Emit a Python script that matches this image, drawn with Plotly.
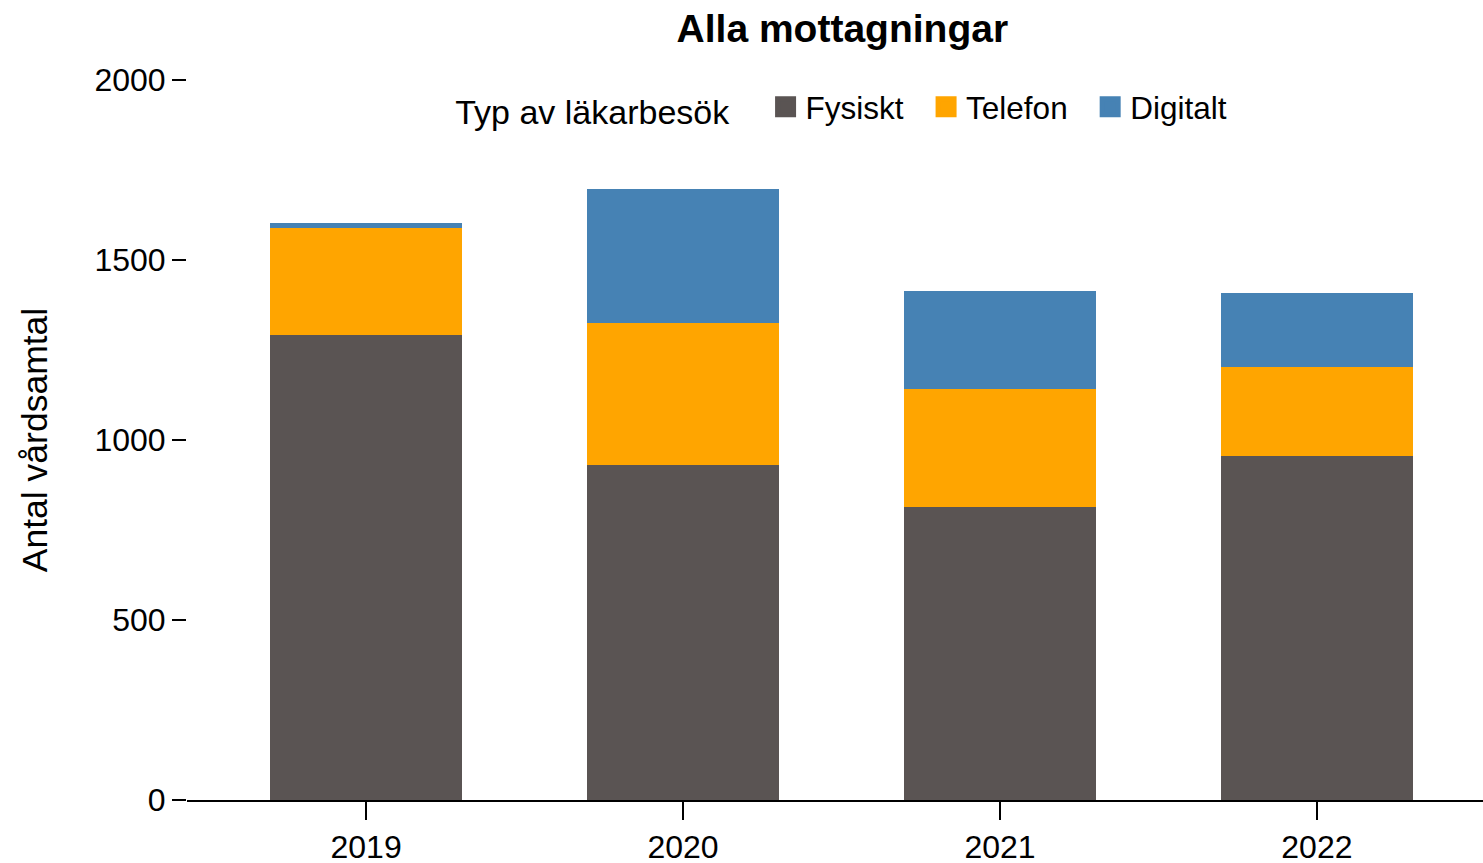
import plotly.graph_objects as go

years = ["2019", "2020", "2021", "2022"]
fysiskt = [1292, 931, 813, 956]
telefon = [298, 395, 328, 246]
digitalt = [14, 370, 273, 207]

series_names = ["Fysiskt", "Telefon", "Digitalt"]
series_values = [fysiskt, telefon, digitalt]
series_colors = ["#5A5453", "#FFA500", "#4682B4"]

FONT = "Liberation Sans, Arial, sans-serif"

fig = go.Figure()
for name, vals, col in zip(series_names, series_values, series_colors):
    fig.add_trace(go.Bar(
        x=years, y=vals, name=name, marker=dict(color=col, line=dict(width=0)),
        showlegend=False,
    ))
for name, col in zip(series_names, series_colors):
    fig.add_trace(go.Scatter(
        x=[None], y=[None], mode="markers", name=name + "\u00a0\u00a0",
        marker=dict(symbol="square", size=16, color=col, line=dict(color=col, width=8)),
    ))

fig.update_layout(
    width=1483, height=863,
    barmode="stack", bargap=0.394,
    plot_bgcolor="white", paper_bgcolor="white",
    margin=dict(l=187, r=0, t=80, b=63, autoexpand=False),
    font=dict(family=FONT, size=32, color="#000000"),
    title=dict(text="<b>Alla mottagningar</b>", x=0.568, xanchor="center",
               y=0.967, yanchor="middle", font=dict(size=39, color="#000000")),
    legend=dict(
        orientation="h", traceorder="normal",
        x=0.5125, xanchor="center", y=0.962, yanchor="middle",
        title=dict(text="Typ av läkarbesök\u00a0\u00a0\u00a0", side="left", font=dict(size=34)),
        font=dict(size=31.5), bgcolor="rgba(0,0,0,0)", itemclick=False,
    ),
    xaxis=dict(
        type="category", range=[-0.565, 3.524], showgrid=False,
        showline=True, linecolor="#000000", linewidth=2,
        ticks="outside", ticklen=18, tickwidth=2, tickcolor="#000000",
        tickfont=dict(size=32), automargin=False,
    ),
    yaxis=dict(
        range=[0, 2000], tickvals=[0, 500, 1000, 1500, 2000], showgrid=False,
        zeroline=False, showline=False,
        ticks="outside", ticklen=14, tickwidth=2, tickcolor="#000000",
        tickfont=dict(size=32), automargin=False,
        title=dict(text="Antal vårdsamtal", font=dict(size=35.5), standoff=35),
    ),
)

fig.write_html("out.html", config={"displayModeBar": False},
               post_script="document.body.style.margin='0';")
